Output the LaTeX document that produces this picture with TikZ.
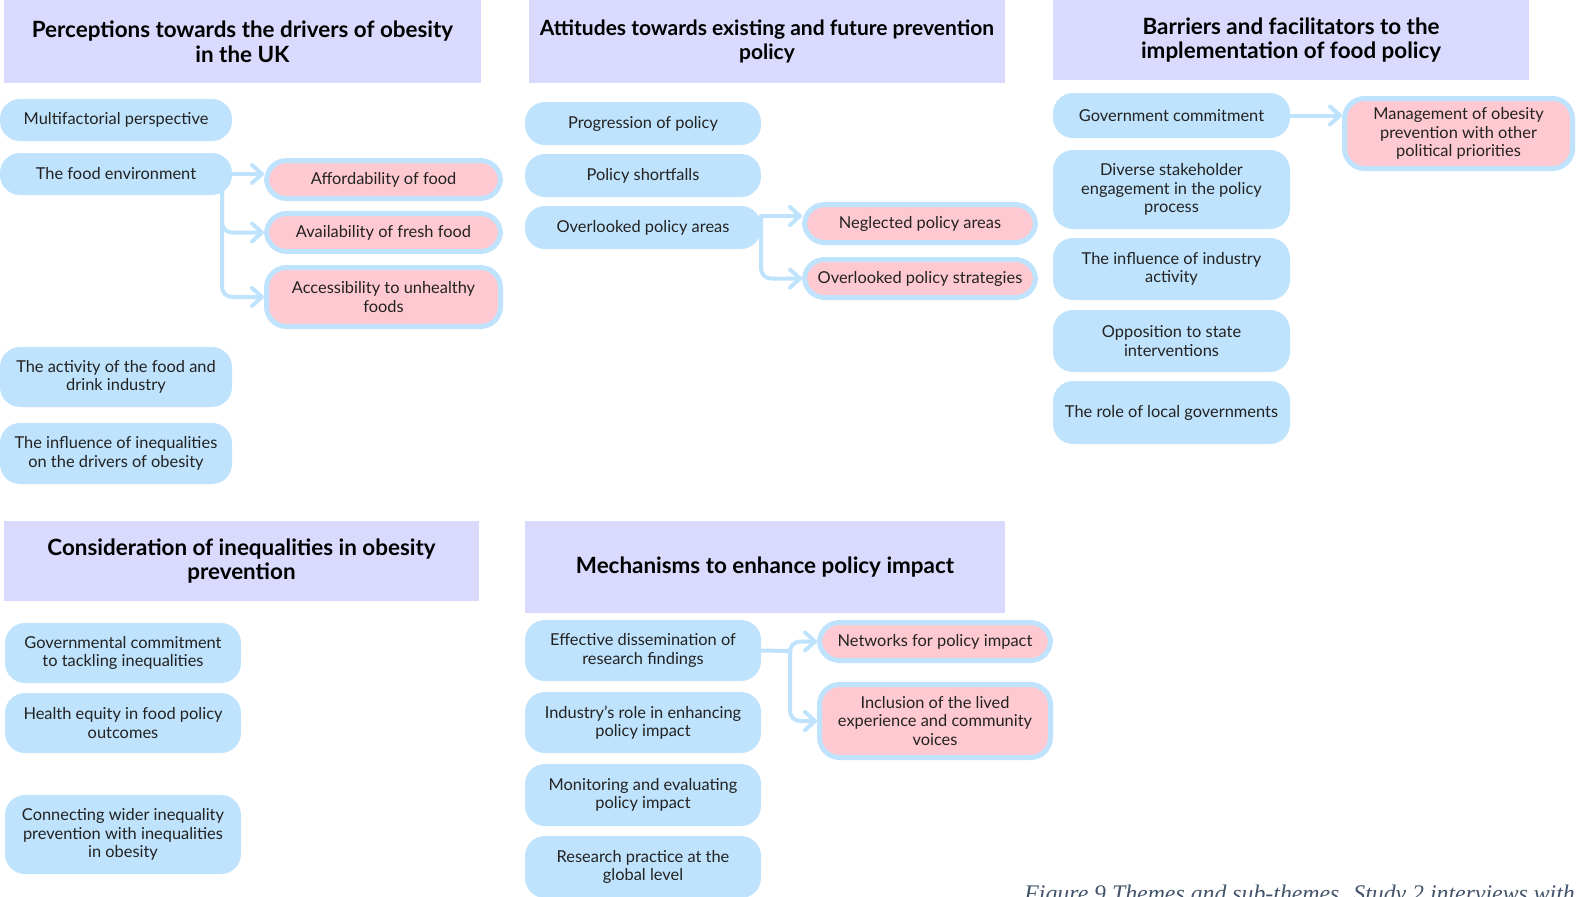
\documentclass[tikz,border=0pt]{standalone}
\usepackage{fontspec}
\setmainfont{Lato}
\newfontfamily\capfont{Liberation Serif}
\usetikzlibrary{arrows.meta}
\definecolor{bluefill}{HTML}{BFE3FD}
\definecolor{pinkfill}{HTML}{FFC9D1}
\definecolor{headfill}{HTML}{D9DAFD}
\definecolor{txt}{HTML}{222222}
\definecolor{capcol}{HTML}{44546A}
\tikzset{
  basebox/.style={align=center, inner sep=0pt, text=txt, font=\fontsize{8.2}{9.2}\selectfont},
  bluebox/.style={basebox, fill=bluefill, rounded corners=10pt},
  pinkbox/.style={basebox, fill=pinkfill, draw=bluefill, line width=2.5pt, rounded corners=10pt},
  headbox/.style={align=center, inner sep=0pt, fill=headfill, text=black, font=\bfseries\fontsize{11.2}{12.4}\selectfont},
  link/.style={draw=bluefill, line width=2pt, line cap=round, line join=round, rounded corners=5pt},
  arr/.style={link, -{Straight Barb[length=5pt,width=9pt,round]}},
}
\begin{document}
\begin{tikzpicture}[x=0.5pt,y=-0.5pt]
\useasboundingbox (0,0) rectangle (1577,896);
\clip (0,0) rectangle (1577,896);
% headers
\node[headbox, minimum width=238.5pt, minimum height=41.5pt] (h1) at (242.5,41.5) {Perceptions towards the drivers of obesity\\in the UK};
\node[headbox, font=\bfseries\fontsize{10.5}{12.4}\selectfont, minimum width=238pt, minimum height=41.5pt] (h2) at (767,41.5) {Attitudes towards existing and future prevention\\policy};
\node[headbox, minimum width=238pt, minimum height=40pt] (h3) at (1291,40) {Barriers and facilitators to the\\implementation of food policy};
\node[headbox, minimum width=237.5pt, minimum height=40pt] (h4) at (241.5,561) {Consideration of inequalities in obesity\\prevention};
\node[headbox, minimum width=240pt, minimum height=46pt] (h5) at (765,567) {Mechanisms to enhance policy impact};
% column 1
\node[bluebox, minimum width=116pt, minimum height=21pt] (b11) at (116,120) {Multifactorial perspective};
\node[bluebox, minimum width=116pt, minimum height=21pt] (b12) at (116,174) {The food environment};
\node[bluebox, minimum width=116pt, minimum height=30pt] (b13) at (116,377) {The activity of the food and\\drink industry};
\node[bluebox, minimum width=116pt, minimum height=30.5pt] (b14) at (116,453.5) {The influence of inequalities\\on the drivers of obesity};
\node[pinkbox, minimum width=117pt, minimum height=19pt] (p11) at (383.5,179.5) {Affordability of food};
\node[pinkbox, minimum width=117pt, minimum height=19pt] (p12) at (383.5,232.5) {Availability of fresh food};
\node[pinkbox, minimum width=117pt, minimum height=29.5pt] (p13) at (383.5,297) {Accessibility to unhealthy\\foods};
% column 2
\node[bluebox, minimum width=118pt, minimum height=21.5pt] (b21) at (643,123.5) {Progression of policy};
\node[bluebox, minimum width=118pt, minimum height=21.5pt] (b22) at (643,175.5) {Policy shortfalls};
\node[bluebox, minimum width=118pt, minimum height=21.5pt] (b23) at (643,227.5) {Overlooked policy areas};
\node[pinkbox, minimum width=115.5pt, minimum height=19pt] (p21) at (920,223.5) {Neglected policy areas};
\node[pinkbox, minimum width=115.5pt, minimum height=19pt] (p22) at (920,278.5) {Overlooked policy strategies};
% column 3
\node[bluebox, minimum width=118.5pt, minimum height=22.5pt] (b31) at (1171.5,115.5) {Government commitment};
\node[bluebox, minimum width=118.5pt, minimum height=39.5pt] (b32) at (1171.5,189.5) {Diverse stakeholder\\engagement in the policy\\process};
\node[bluebox, minimum width=118.5pt, minimum height=31pt] (b33) at (1171.5,269) {The influence of industry\\activity};
\node[bluebox, minimum width=118.5pt, minimum height=31pt] (b34) at (1171.5,341) {Opposition to state\\interventions};
\node[bluebox, minimum width=118.5pt, minimum height=31.5pt] (b35) at (1171.5,412.5) {The role of local governments};
\node[pinkbox, minimum width=114pt, minimum height=35pt] (p31) at (1458.5,133.5) {Management of obesity\\prevention with other\\political priorities};
% column 4
\node[bluebox, minimum width=118pt, minimum height=30pt] (b41) at (123,653) {Governmental commitment\\to tackling inequalities};
\node[bluebox, minimum width=118pt, minimum height=30pt] (b42) at (123,723) {Health equity in food policy\\outcomes};
\node[bluebox, minimum width=118pt, minimum height=39.5pt] (b43) at (123,834.5) {Connecting wider inequality\\prevention with inequalities\\in obesity};
% column 5
\node[bluebox, minimum width=118pt, minimum height=30.5pt] (b51) at (643,650.5) {Effective dissemination of\\research findings};
\node[bluebox, minimum width=118pt, minimum height=30.5pt] (b52) at (643,722.5) {Industry’s role in enhancing\\policy impact};
\node[bluebox, minimum width=118pt, minimum height=31pt] (b53) at (643,795) {Monitoring and evaluating\\policy impact};
\node[bluebox, minimum width=118pt, minimum height=31pt] (b54) at (643,867) {Research practice at the\\global level};
\node[pinkbox, minimum width=115.5pt, minimum height=19pt] (p51) at (935,641.5) {Networks for policy impact};
\node[pinkbox, minimum width=115.5pt, minimum height=36.5pt] (p52) at (935,721) {Inclusion of the lived\\experience and community\\voices};
% connectors
\draw[arr] (b12.east) -- (b12.east -| p11.west);
\coordinate (j1) at (222,188);
\draw[arr] (j1) |- (p12.west);
\draw[arr] (j1) |- (p13.west);
\coordinate (j2) at (761,216);
\draw[arr] (j2) -- (j2 -| p21.west);
\draw[arr] (j2) |- (p22.west);
\draw[arr] (b31.east) -- (b31.east -| p31.west);
\coordinate (j5) at (790,651);
\draw[link] (b51.east) -- (j5);
\draw[arr] (j5) |- (p51.west);
\draw[arr] (j5) |- (p52.west);
% caption
\node[anchor=base west, inner sep=0pt, text=capcol, font=\capfont\itshape\fontsize{11.9}{14}\selectfont] (cap) at (1024,901) {Figure 9 Themes and sub-themes. Study 2 interviews with};
\end{tikzpicture}
\end{document}
